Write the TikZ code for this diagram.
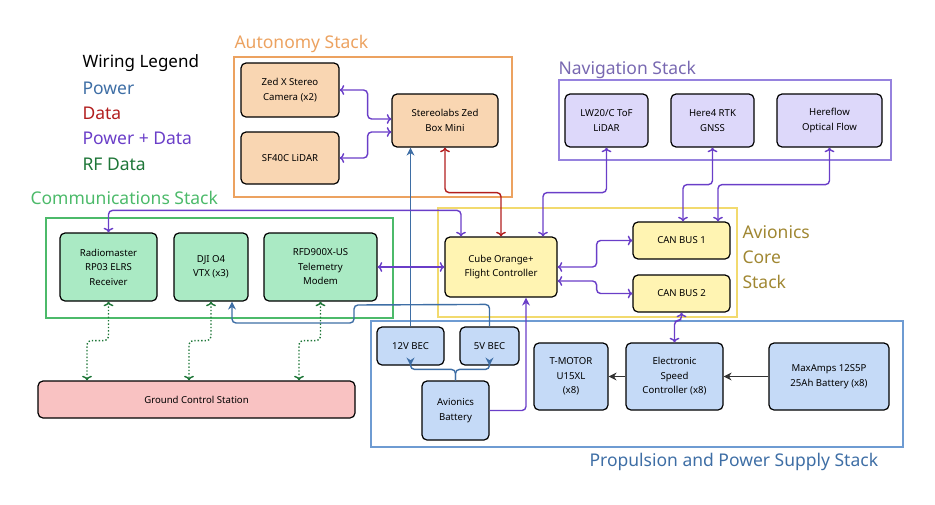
\documentclass[tikz,border=0pt]{standalone}
\usepackage{fontspec}
\setmainfont{Noto Sans}
\usetikzlibrary{arrows.meta}
\definecolor{autoframe}{RGB}{236,162,96}
\definecolor{autofill}{RGB}{249,214,178}
\definecolor{navframe}{RGB}{150,130,222}
\definecolor{navfill}{RGB}{221,216,250}
\definecolor{coreframe}{RGB}{242,218,110}
\definecolor{corefill}{RGB}{255,244,178}
\definecolor{commframe}{RGB}{76,186,106}
\definecolor{commfill}{RGB}{170,234,196}
\definecolor{propframe}{RGB}{110,155,210}
\definecolor{propfill}{RGB}{197,218,247}
\definecolor{gcsfill}{RGB}{249,194,194}
\definecolor{powerline}{RGB}{62,110,165}
\definecolor{dataline}{RGB}{178,30,30}
\definecolor{pdline}{RGB}{106,62,200}
\definecolor{rfline}{RGB}{30,118,56}
\definecolor{coretext}{RGB}{160,135,50}

\begin{document}
\begin{tikzpicture}[x=1pt,y=-1pt,
  box/.style={draw, line width=1.2pt, rounded corners=5pt, align=center,
    font=\fontsize{9.6}{14.5}\selectfont, inner sep=1pt},
  frame/.style={line width=2.8pt},
  title/.style={anchor=west, font=\fontsize{17.5}{20}\selectfont},
  wire/.style={line width=1.4pt, rounded corners=4pt, arrows={-Stealth[length=8pt,width=8pt]}},
  pw/.style={wire, powerline},
  dt/.style={wire, dataline},
  pd/.style={wire, pdline},
  rf/.style={wire, rfline, dotted}]
\useasboundingbox (0,0) rectangle (935,504);

% Frames
\draw[frame, autoframe] (234,57) rectangle (512,197);
\draw[frame, navframe] (559,80) rectangle (891,160);
\draw[frame, coreframe] (438,208) rectangle (737,317);
\draw[frame, commframe] (46,218) rectangle (393,318);
\draw[frame, propframe] (371,321) rectangle (903,447);

% Titles
\node[title, autoframe] (tauto) at (231,44) {Autonomy Stack};
\node[title, navframe!80!black] (tnav) at (555,70) {Navigation Stack};
\node[title, commframe] (tcomm) at (27,198) {Communications Stack};
\node[title, powerline] (tprop) at (586,462) {Propulsion and Power Supply Stack};
\node[title, coretext, align=left, font=\fontsize{17.5}{25}\selectfont] (tcore) at (739,257) {Avionics\\Core\\Stack};

% Legend
\node[title, font=\bfseries\fontsize{17}{20}\selectfont] (leg) at (79,63) {Wiring Legend};
\node[title, powerline] (legpw) at (79,88) {Power};
\node[title, dataline] (legdt) at (79,113) {Data};
\node[title, pdline] (legpd) at (79,138) {Power + Data};
\node[title, rfline] (legrf) at (79,164) {RF Data};

% Boxes
\node[box, fill=autofill, minimum width=98pt, minimum height=54pt] (zedcam) at (290,90) {Zed X Stereo\\Camera (x2)};
\node[box, fill=autofill, minimum width=98pt, minimum height=52pt] (sflidar) at (290,158) {SF40C LiDAR};
\node[box, fill=autofill, minimum width=106pt, minimum height=53pt] (zedbox) at (445,120.5) {Stereolabs Zed\\Box Mini};
\node[box, fill=navfill, minimum width=83pt, minimum height=53pt] (lwlidar) at (606.5,120.5) {LW20/C ToF\\LiDAR};
\node[box, fill=navfill, minimum width=83pt, minimum height=53pt] (here) at (712.5,120.5) {Here4 RTK\\GNSS};
\node[box, fill=navfill, minimum width=105pt, minimum height=53pt] (hereflow) at (829.5,120.5) {Hereflow\\Optical Flow};
\node[box, fill=corefill, minimum width=112pt, minimum height=60pt] (cube) at (501,267) {Cube Orange+\\Flight Controller};
\node[box, fill=corefill, minimum width=97pt, minimum height=37pt] (canone) at (681.5,240.5) {CAN BUS 1};
\node[box, fill=corefill, minimum width=97pt, minimum height=37pt] (cantwo) at (681.5,293.5) {CAN BUS 2};
\node[box, fill=commfill, minimum width=97pt, minimum height=68pt] (radio) at (108.5,267) {Radiomaster\\RP03 ELRS\\Receiver};
\node[box, fill=commfill, minimum width=74pt, minimum height=68pt] (dji) at (211,267) {DJI O4\\VTX (x3)};
\node[box, fill=commfill, minimum width=113pt, minimum height=68pt] (rfd) at (320.5,267) {RFD900X-US\\Telemetry\\Modem};
\node[box, fill=gcsfill, minimum width=317pt, minimum height=37pt] (gcs) at (196.5,399.5) {Ground Control Station};
\node[box, fill=propfill, minimum width=67pt, minimum height=38pt] (bec12) at (410.5,346) {12V BEC};
\node[box, fill=propfill, minimum width=59pt, minimum height=38pt] (bec5) at (489.5,346) {5V BEC};
\node[box, fill=propfill, minimum width=67pt, minimum height=59pt] (avbat) at (455.5,410.5) {Avionics\\Battery};
\node[box, fill=propfill, minimum width=74pt, minimum height=67pt] (tmotor) at (571,376.5) {T-MOTOR\\U15XL\\(x8)};
\node[box, fill=propfill, minimum width=97pt, minimum height=67pt] (esc) at (674.5,376.5) {Electronic\\Speed\\Controller (x8)};
\node[box, fill=propfill, minimum width=120pt, minimum height=67pt] (maxamps) at (829,376.5) {MaxAmps 12S5P\\25Ah Battery (x8)};

% Wires
\draw[pd, <->] (zedcam.east) -- ++(28,0) |- ([yshift=1.5pt]zedbox.west);
\draw[pd, <->] (sflidar.east) -- ++(28,0) |- ([yshift=-11.5pt]zedbox.west);
\draw[dt, <->] (zedbox.south) -- ++(0,45) -| (cube.north);
\draw[pw] (bec12.north) -- (bec12.north |- zedbox.south);
\draw[pd, <->] (radio.north) -- ++(0,-22) -| ([xshift=-40pt]cube.north);
\draw[pd, <->] (lwlidar.south) -- ++(0,45) -| ([xshift=42pt]cube.north);
\draw[pd, <->] (rfd.east) -- (cube.west);
\draw[pd, <->] (cube.east) -- ++(39,0) |- (canone.west);
\draw[pd, <->] ([yshift=-14pt]cube.east) -- ++(39,0) |- (cantwo.west);
\draw[pd, <->] (here.south) -- ++(0,37) -| ([xshift=1.5pt]canone.north);
\draw[pd, <->] (hereflow.south) -- ++(0,37) -| ([xshift=36.5pt]canone.north);
\draw[pd, <->] (cantwo.south) -- ++(0,8) -| (esc.north);
\draw[wire, black!80] (maxamps.west) -- (esc.east);
\draw[wire, black!80] (esc.west) -- (tmotor.east);
\draw[pw] (avbat.north) -- ++(0,-11) -| (bec12.south);
\draw[pw] (avbat.north) -- ++(0,-11) -| (bec5.south);
\draw[pd] (avbat.east) -| ([xshift=25pt]cube.south);
\draw[pw] (bec5.north) -- ++(0,-22) -- (354,305) -- (354,323) -| ([xshift=21pt]dji.south);
\draw[rf, <->] (radio.south) -- ++(0,39) -| ([xshift=-109.5pt]gcs.north);
\draw[rf, <->] (dji.south) -- ++(0,39) -| ([xshift=-7.5pt]gcs.north);
\draw[rf, <->] (rfd.south) -- ++(0,39) -| ([xshift=102.5pt]gcs.north);
\end{tikzpicture}
\end{document}
